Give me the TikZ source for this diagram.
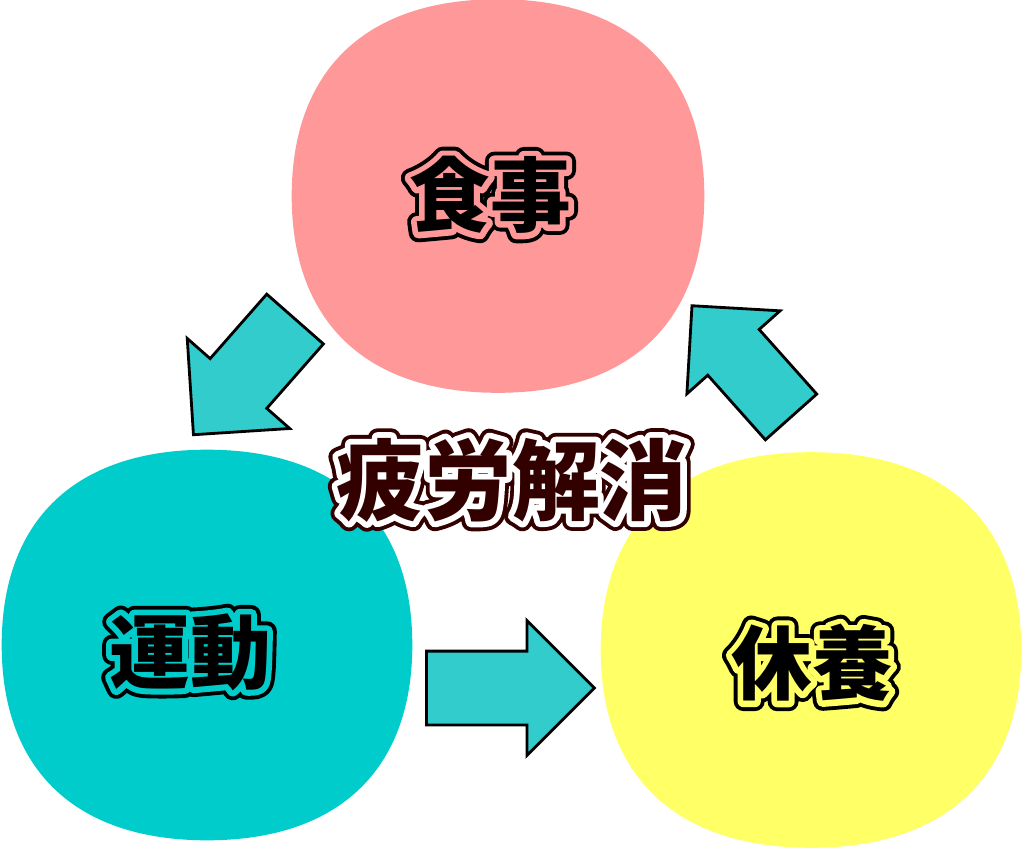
\documentclass[tikz,border=0pt]{standalone}
\usepackage{fontspec}
\usetikzlibrary{shapes.arrows, calc}
\newfontfamily\jp{Noto Sans CJK JP}
\definecolor{mealpink}{RGB}{255,153,153}
\definecolor{sportcyan}{RGB}{0,204,204}
\definecolor{restyellow}{RGB}{255,255,102}
\definecolor{arrowcyan}{RGB}{51,204,204}
\definecolor{darkbrown}{RGB}{51,0,0}
% stroked copy of a text: colour, stroke width (bp), text
\newcommand{\strokedtext}[3]{%
  \rlap{\color{#1}\special{pdf:literal direct 2 Tr #2 w 1 j}#3\special{pdf:literal direct 0 Tr}}}
% halo colour, outline colour, text
\newcommand{\halotext}[3]{\strokedtext{#2}{11}{#3}\strokedtext{#1}{6.6}{#3}#3}
% squircle filled through the anchors of a node
\newcommand{\squircle}[2]{%
  \fill[#2] (#1.north) .. controls ($(#1.north)!.64!(#1.north east)$) and ($(#1.east)!.64!(#1.north east)$) .. (#1.east)
    .. controls ($(#1.east)!.64!(#1.south east)$) and ($(#1.south)!.64!(#1.south east)$) .. (#1.south)
    .. controls ($(#1.south)!.64!(#1.south west)$) and ($(#1.west)!.64!(#1.south west)$) .. (#1.west)
    .. controls ($(#1.west)!.64!(#1.north west)$) and ($(#1.north)!.64!(#1.north west)$) .. (#1.north) -- cycle;}
\begin{document}
\begin{tikzpicture}[x=0.02cm, y=-0.02cm,
    blob/.style={rectangle, minimum width=8.24cm, minimum height=7.86cm, inner sep=0pt},
    kanji/.style={font=\jp\bfseries\fontsize{46}{46}\selectfont, inner sep=0pt, text=black},
    flow/.style={single arrow, single arrow tip angle=90, fill=arrowcyan, draw=black, line width=1.6pt, anchor=tail, inner xsep=0pt}]
    \useasboundingbox (0,0) rectangle (1024,848);

    \node[blob] (meal) at (498,196) {};
    \node[blob, minimum width=8.2cm, minimum height=7.8cm] (sport) at (207,645) {};
    \node[blob, minimum width=8.4cm, minimum height=7.9cm] (rest) at (811,650) {};
    \squircle{meal}{mealpink}
    \squircle{sport}{sportcyan}
    \squircle{rest}{restyellow}

    \node[kanji] (mealtext) at (490,195) {\halotext{mealpink}{black}{食事}};
    \node[kanji] (sporttext) at (190,652) {\halotext{sportcyan}{black}{運動}};
    \node[kanji] (resttext) at (812,663) {\halotext{restyellow}{black}{休養}};
    \node[kanji, text=darkbrown, font=\jp\bfseries\fontsize{50}{50}\selectfont] (goal) at (512,480) {\halotext{white}{darkbrown}{疲労解消}};

    \node[flow, minimum height=3.08cm, inner ysep=0.726cm, single arrow head extend=0.61cm, rotate=228.7] (toSport) at (296,318) {};
    \node[flow, minimum height=3.36cm, inner ysep=0.71cm, single arrow head extend=0.61cm] (toRest) at (425,688) {};
    \node[flow, minimum height=2.98cm, inner ysep=0.66cm, single arrow head extend=0.56cm, rotate=131.7] (toMeal) at (792,418) {};
\end{tikzpicture}
\end{document}
